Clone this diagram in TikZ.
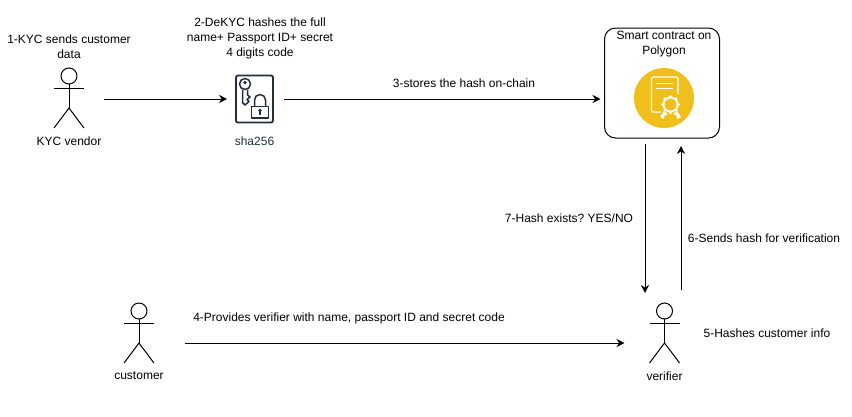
\documentclass[tikz,border=0pt]{standalone}
\usepackage{fontspec}
\setmainfont{Liberation Sans}
\usetikzlibrary{arrows.meta}
\definecolor{awsdark}{HTML}{232F3E}
\definecolor{gold}{HTML}{F0BF1C}
\tikzset{
  lbl/.style={font=\frenchspacing\fontsize{12}{15}\selectfont,align=center,text=black,inner sep=0pt},
  flow/.style={draw=black,line width=1pt,-{Stealth[length=8pt,width=8pt]}},
  actorbox/.style={minimum width=30pt,minimum height=60pt,inner sep=0pt,outer sep=0pt},
  stick/.style={draw=black,line width=1pt},
  iconline/.style={draw=awsdark,line width=1.5pt,line join=round},
  whiteline/.style={draw=white,line width=1.4pt,line join=round}
}
\newcommand{\stickman}[1]{%
  \draw[stick] ([yshift=-8pt]#1.north) circle (8pt);
  \draw[stick] ([yshift=-16pt]#1.north) -- ([yshift=-40pt]#1.north);
  \draw[stick] ([yshift=-20pt]#1.north west) -- ([yshift=-20pt]#1.north east);
  \draw[stick] (#1.south west) -- ([yshift=-40pt]#1.north) -- (#1.south east);
}
\begin{document}
\begin{tikzpicture}[x=1pt,y=-1pt]
\useasboundingbox (0,0) rectangle (852,416);
\fill[white] (0,0) rectangle (852,416);
% actors
\node[actorbox] (kyc) at (69,98) {};
\node[actorbox] (customer) at (139,333) {};
\node[actorbox] (verifier) at (664.5,333) {};
\stickman{kyc}\stickman{customer}\stickman{verifier}
\node[lbl] (kyclbl) at (69,141) {KYC vendor};
\node[lbl] (customerlbl) at (139,376) {customer};
\node[lbl] (verifierlbl) at (664.5,376) {verifier};
% sha icon
\node[minimum width=37pt,minimum height=47pt,inner sep=0pt,outer sep=0pt,rounded corners=2pt,draw=awsdark,line width=1.8pt] (hash) at (254.5,99) {};
\draw[iconline] (245,84) circle (5.5pt);
\fill[awsdark] (245,82.5) circle (1.8pt);
\draw[iconline] (242.5,89.5) -- (242.5,102.5) -- (245,105) -- (249,101.5) -- (247,99.5) -- (250,97) -- (247.5,95) -- (247.5,89.5);
\draw[iconline,fill=white] (251.5,106.5) rectangle (268.5,118);
\draw[iconline] (254.5,106.5) -- (254.5,100) arc[start angle=180,end angle=0,radius=5.5pt] -- (265.5,106.5);
\fill[awsdark] (260,110.5) circle (1.8pt);
\draw[awsdark,line width=1.2pt] (260,110.5) -- (260,115);
\node[lbl,text=awsdark] (hashlbl) at (254.5,141.5) {sha256};
% contract
\node[draw=black,line width=1pt,rounded corners=11pt,minimum width=115pt,minimum height=110pt,inner sep=0pt,outer sep=0pt] (contract) at (662,83) {};
\node[lbl] (contractlbl) at (664,44.5) {Smart contract on\\Polygon};
\node[circle,fill=gold,minimum size=60pt,inner sep=0pt] (seal) at (664,98) {};
\draw[whiteline] (661,112) -- (653,112) -- (651.5,110.5) -- (651.5,78.5) -- (653,77) -- (676.5,77) -- (678,78.5) -- (678,94);
\draw[whiteline] (656,83.5) -- (673,83.5) (656,88.5) -- (673,88.5);
\fill[white] (660,117) -- (664,111) -- (668,114) -- (664.5,115.5) -- (664,119) -- cycle;
\fill[white] (681,117) -- (677,111) -- (673,114) -- (676.5,115.5) -- (677,119) -- cycle;
\foreach \a in {0,45,...,315}{\fill[white] (670.5,104.5) ++(\a:8pt) circle (1.6pt);}
\fill[white] (670.5,104.5) circle (8pt);
\fill[gold] (670.5,104.5) circle (6pt);
% flows
\draw[flow,shorten <=20pt,shorten >=9pt] (kyc.east |- hash.west) -- (hash.west);
\draw[flow,shorten <=11pt,shorten >=4pt] (hash.east) -- (hash.east -| contract.west);
\draw[flow,shorten <=6pt,shorten >=10pt] ([xshift=-17pt]contract.south) -- ([xshift=-17pt]contract.south |- verifier.north);
\draw[flow,shorten <=13pt,shorten >=8pt] ([xshift=19pt]contract.south |- verifier.north) -- ([xshift=19pt]contract.south);
\draw[flow,shorten <=31pt,shorten >=25pt] ([yshift=-10pt]customer.east) -- ([yshift=-10pt]verifier.west);
% labels
\node[lbl] (t1) at (69,46.5) {1-KYC sends customer\\data};
\node[lbl] (t2) at (260,38.5) {2-DeKYC hashes the full\\name+ Passport ID+ secret\\4 digits code};
\node[lbl] (t3) at (464,83) {3-stores the hash on-chain};
\node[lbl] (t4) at (349,318) {4-Provides verifier with name, passport ID and secret code};
\node[lbl] (t5) at (767,333) {5-Hashes customer info};
\node[lbl] (t6) at (764,238) {6-Sends hash for verification};
\node[lbl] (t7) at (569,218) {7-Hash exists? YES/NO};
\end{tikzpicture}
\end{document}
